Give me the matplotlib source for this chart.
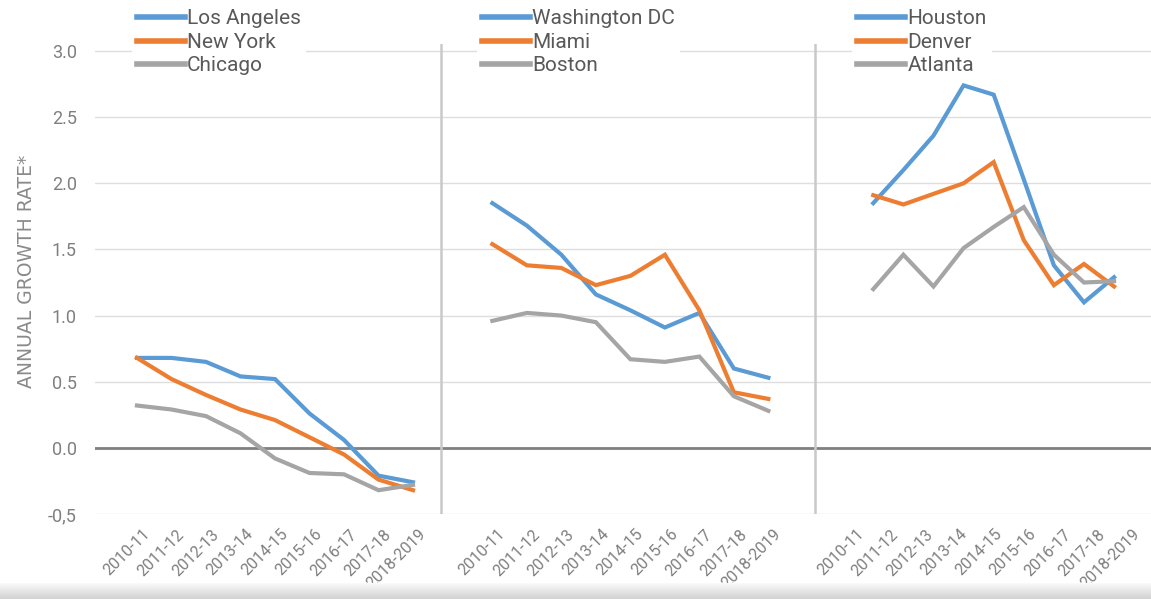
import numpy as np
import matplotlib.pyplot as plt
from matplotlib.lines import Line2D
from matplotlib.transforms import ScaledTranslation

periods = ['2010-11', '2011-12', '2012-13', '2013-14', '2014-15',
           '2015-16', '2016-17', '2017-18', '2018-2019']

# panel 1
los_angeles = [0.68, 0.68, 0.65, 0.54, 0.52, 0.26, 0.06, -0.21, -0.26]
new_york = [0.68, 0.52, 0.40, 0.29, 0.21, 0.08, -0.05, -0.24, -0.32]
chicago = [0.32, 0.29, 0.24, 0.11, -0.08, -0.19, -0.20, -0.32, -0.28]
# panel 2
washington = [1.85, 1.68, 1.46, 1.16, 1.04, 0.91, 1.02, 0.60, 0.53]
miami = [1.54, 1.38, 1.36, 1.23, 1.30, 1.46, 1.04, 0.42, 0.37]
boston = [0.96, 1.02, 1.00, 0.95, 0.67, 0.65, 0.69, 0.39, 0.28]
# panel 3
houston = [1.85, 2.10, 2.36, 2.74, 2.67, 2.03, 1.38, 1.10, 1.29]
denver = [1.91, 1.84, 1.92, 2.00, 2.16, 1.57, 1.23, 1.39, 1.22]
atlanta = [1.20, 1.46, 1.22, 1.51, 1.67, 1.82, 1.46, 1.25, 1.26]

ytick_vals = [3.0, 2.5, 2.0, 1.5, 1.0, 0.5, 0.0, -0.5]
ytick_labels = ['3.0', '2.5', '2.0', '1.5', '1.0', '0.5', '0.0', '-0,5']

BLUE, ORANGE, GREY = '#5b9bd5', '#ed7d31', '#a5a5a5'
TXT = '#7f7f7f'
plt.rcParams['font.family'] = ['Roboto', 'DejaVu Sans']

fig = plt.figure(figsize=(11.51, 5.99), dpi=100)
ax = fig.add_axes([95 / 1151, 85 / 599, 1056 / 1151, 470 / 599])

n = len(periods)
idx = np.arange(n)
offsets = [0.0, 10.3, 20.7]
# third panel's lines sit a bit compressed against its labels in the source
x3 = np.linspace(21.34, 28.32, n)
groups = [
    (idx + offsets[0], [(los_angeles, 'Los Angeles', BLUE), (new_york, 'New York', ORANGE), (chicago, 'Chicago', GREY)]),
    (idx + offsets[1], [(washington, 'Washington DC', BLUE), (miami, 'Miami', ORANGE), (boston, 'Boston', GREY)]),
    (x3, [(houston, 'Houston', BLUE), (denver, 'Denver', ORANGE), (atlanta, 'Atlanta', GREY)]),
]

for y in ytick_vals:
    ax.axhline(y, color='#dedede', lw=1, zorder=0)
ax.axhline(0, color='#808080', lw=2, zorder=1)
for xs in [8.81, 19.65]:
    ax.axvline(xs, color='#c9c9c9', lw=1.8, zorder=1)

legend_x = [135, 480, 855]
for (xs, series), lx in zip(groups, legend_x):
    handles = []
    for vals, name, col in series:
        ax.plot(xs, vals, color=col, lw=3, solid_joinstyle='miter', zorder=3)
        handles.append(Line2D([], [], color=col, lw=4))
    leg = fig.legend(handles, [s[1] for s in series], loc='upper left',
                     bbox_to_anchor=((lx - 3) / 1151, 1 - 4 / 599),
                     frameon=True, facecolor='white', edgecolor='none', framealpha=1,
                     fontsize=15, handlelength=2.3, handletextpad=0.1,
                     labelspacing=0.22, borderpad=0.25, borderaxespad=0)
    for t in leg.get_texts():
        t.set_color('#595959')

ax.set_xlim(-1.217, 29.39)
ax.set_ylim(-0.5, 3.053)
ax.set_yticks(ytick_vals, ytick_labels)
ticks = np.concatenate([idx + o for o in offsets])
ax.set_xticks(ticks, periods * 3)
ax.tick_params(axis='y', length=0, pad=13, labelsize=13, labelcolor=TXT)
ax.tick_params(axis='x', length=0, pad=9, labelsize=11.5, labelcolor=TXT)
shift = ScaledTranslation(5 / 100, 0, fig.dpi_scale_trans)
for lab in ax.get_xticklabels():
    lab.set_rotation(45)
    lab.set_ha('right')
    lab.set_rotation_mode('anchor')
    lab.set_transform(lab.get_transform() + shift)
for s in ax.spines.values():
    s.set_visible(False)

fig.text(27 / 1151, 1 - 271 / 599, 'ANNUAL GROWTH RATE*', rotation=90,
         ha='center', va='center', fontsize=13.5, color='#8a8a8a',
         family=['DejaVu Sans'])

# grey shadow strip along the bottom edge
bar = fig.add_axes([0, 0, 1, 16 / 599])
grad = np.linspace(0.98, 0.82, 50).reshape(-1, 1)
bar.imshow(grad, aspect='auto', cmap='gray', vmin=0, vmax=1, extent=[0, 1, 0, 1])
bar.axis('off')

fig.savefig('out.png', dpi=100)
